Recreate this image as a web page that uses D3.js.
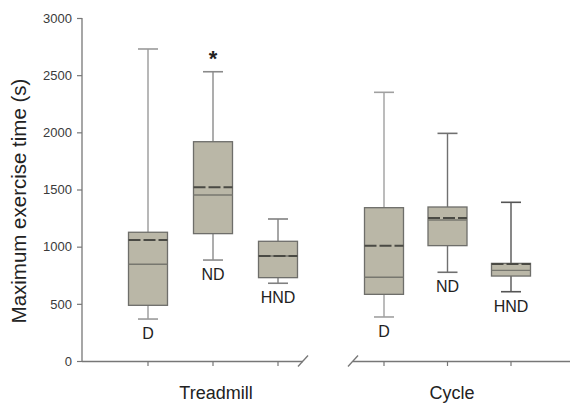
<!DOCTYPE html>
<html><head><meta charset="utf-8">
<script src="https://cdn.jsdelivr.net/npm/d3@7"></script>
<style>body{margin:0;background:#fff}svg{display:block;font-family:"Liberation Sans",Arial,sans-serif}</style>
</head><body>
<svg id="c" width="570" height="404"></svg>
<script>
const groups = ["Treadmill", "Cycle"];
const categories = ["D", "ND", "HND"];
const yTicks = [0, 500, 1000, 1500, 2000, 2500, 3000];
// Treadmill
const tmLow    = [367, 883, 680];
const tmQ1     = [487, 1114, 729];
const tmMedian = [846, 1452, 918];
const tmMean   = [1058, 1519, 918];
const tmQ3     = [1126, 1918, 1047];
const tmHigh   = [2729, 2530, 1242];
// Cycle
const cyLow    = [385, 776, 606];
const cyQ1     = [583, 1009, 743];
const cyMedian = [732, 1233, 793];
const cyMean   = [1009, 1251, 848];
const cyQ3     = [1341, 1347, 854];
const cyHigh   = [2350, 1991, 1388];
const significant = ["ND"]; // Treadmill ND marked with *

const svg = d3.select("#c");
const y = d3.scaleLinear().domain([0, 3000]).range([361, 18]);
const panels = [
  {name: groups[0], x: d3.scalePoint().domain(categories).range([148, 278]), axis: [82, 303],
   low: tmLow, q1: tmQ1, med: tmMedian, mean: tmMean, q3: tmQ3, high: tmHigh, star: significant,
   whisk: ["#9a9a9a", "#8a8a8a", "#808080"]},
  {name: groups[1], x: d3.scalePoint().domain(categories).range([384, 511]), axis: [353, 570],
   low: cyLow, q1: cyQ1, med: cyMedian, mean: cyMean, q3: cyQ3, high: cyHigh, star: [],
   whisk: ["#a0a0a0", "#707070", "#555555"]}
];

// Y axis
const yAxis = d3.axisLeft(y).tickValues(yTicks).tickSize(5).tickPadding(5).tickFormat(d3.format("d"));
const ga = svg.append("g").attr("transform", "translate(82,0)").call(yAxis);
ga.select(".domain").attr("stroke", "#777").attr("stroke-width", 1.3).attr("d", "M0,18V361");
ga.selectAll(".tick line").attr("stroke", "#777").attr("stroke-width", 1.2);
ga.selectAll(".tick text").attr("fill", "#3a3a3a").attr("font-size", 13).attr("font-family", "Liberation Sans, Arial, sans-serif");

svg.append("text").attr("transform", "translate(26,201) rotate(-90)")
  .attr("text-anchor", "middle").attr("font-size", 20.5).attr("fill", "#222")
  .text("Maximum exercise time (s)");

const boxW = 39, capW = 20;
panels.forEach((p, pi) => {
  svg.append("line").attr("x1", p.axis[0]).attr("x2", p.axis[1]).attr("y1", 361.5).attr("y2", 361.5)
    .attr("stroke", "#777").attr("stroke-width", 1.3);
  const bx = pi === 0 ? p.axis[1] : p.axis[0];
  svg.append("line").attr("x1", bx - 5).attr("x2", bx + 5).attr("y1", 366.5).attr("y2", 355.5)
    .attr("stroke", "#777").attr("stroke-width", 1.3);
  categories.forEach((c, i) => {
    const cx = p.x(c);
    const wc = p.whisk[i];
    svg.append("line").attr("x1", cx).attr("x2", cx).attr("y1", 361.5).attr("y2", 366)
      .attr("stroke", "#777").attr("stroke-width", 1.2);
    const g = svg.append("g");
    g.append("line").attr("x1", cx).attr("x2", cx).attr("y1", y(p.high[i])).attr("y2", y(p.q3[i]))
      .attr("stroke", wc).attr("stroke-width", 1.4);
    g.append("line").attr("x1", cx).attr("x2", cx).attr("y1", y(p.q1[i])).attr("y2", y(p.low[i]))
      .attr("stroke", wc).attr("stroke-width", 1.4);
    g.append("line").attr("x1", cx - capW/2).attr("x2", cx + capW/2).attr("y1", y(p.high[i])).attr("y2", y(p.high[i]))
      .attr("stroke", wc).attr("stroke-width", 1.6);
    g.append("line").attr("x1", cx - capW/2).attr("x2", cx + capW/2).attr("y1", y(p.low[i])).attr("y2", y(p.low[i]))
      .attr("stroke", wc).attr("stroke-width", 1.6);
    g.append("rect").attr("x", cx - boxW/2).attr("width", boxW)
      .attr("y", y(p.q3[i])).attr("height", y(p.q1[i]) - y(p.q3[i]))
      .attr("fill", "#bab7a7").attr("stroke", "#6e6e6a").attr("stroke-width", 1.3);
    g.append("line").attr("x1", cx - boxW/2).attr("x2", cx + boxW/2).attr("y1", y(p.med[i])).attr("y2", y(p.med[i]))
      .attr("stroke", "#77776f").attr("stroke-width", 1.4);
    g.append("line").attr("x1", cx - boxW/2).attr("x2", cx + boxW/2).attr("y1", y(p.mean[i])).attr("y2", y(p.mean[i]))
      .attr("stroke", "#4a4a44").attr("stroke-width", 2).attr("stroke-dasharray", "12,3");
    svg.append("text").attr("x", cx).attr("y", y(p.low[i]) + 20).attr("text-anchor", "middle")
      .attr("font-size", 16).attr("fill", "#222").text(c);
    if (p.star.includes(c)) {
      svg.append("text").attr("x", cx).attr("y", y(p.high[i]) - 6).attr("text-anchor", "middle")
        .attr("font-size", 22).attr("font-weight", "bold").attr("fill", "#222").text("*");
    }
  });
  svg.append("text").attr("x", pi === 0 ? 216 : 452).attr("y", 399).attr("text-anchor", "middle")
    .attr("font-size", 18).attr("fill", "#222").text(p.name);
});
</script>
</body></html>
